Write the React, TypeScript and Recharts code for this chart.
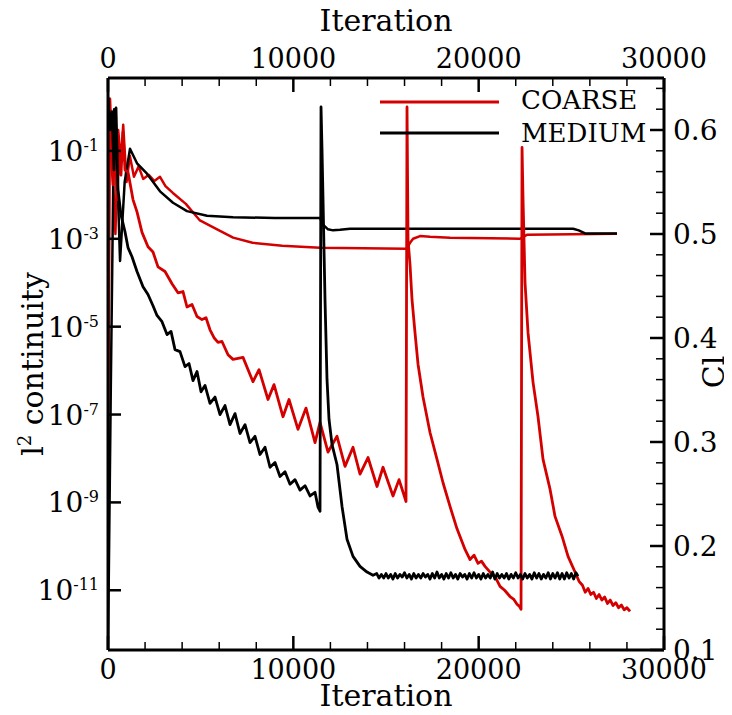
import { Legend, Line, LineChart, XAxis, YAxis } from "recharts";

const FONT = "'DejaVu Serif', serif";
const RED = "#d40000";

// iteration, residual (l2 continuity)
const coarseResidual: [number, number][] = [
  [0, 1.1], [162, 0.1], [270, 0.017], [378, 0.18], [486, 7.8e-3], [594, 0.1],
  [700, 0.028], [809, 0.27], [917, 0.037], [1079, 0.033], [1349, 7.8e-3],
  [1565, 4.1e-3], [1835, 1.4e-3], [2158, 6.6e-4], [2428, 5.0e-4], [2698, 2.3e-4],
  [3076, 1.8e-4], [3454, 9.5e-5], [3777, 5.9e-5], [4047, 6.3e-5], [4263, 2.8e-5],
  [4533, 3.2e-5], [4803, 1.7e-5], [5072, 1.45e-5], [5288, 1.6e-5], [5504, 8.5e-6],
  [5720, 5.6e-6], [5936, 4.4e-6], [6151, 4.6e-6], [6475, 2.3e-6], [6745, 1.8e-6],
  [7285, 2.0e-6], [7824, 5.6e-7], [8148, 1.05e-6], [8634, 2.2e-7], [8958, 4.8e-7],
  [9443, 8.9e-8], [9767, 2.2e-7], [10252, 4.6e-8], [10684, 1.4e-7], [11170, 2.3e-8],
  [11440, 6.6e-8], [11871, 1.4e-8], [12357, 3.2e-8], [12789, 6.6e-9], [13220, 1.8e-8],
  [13598, 4.4e-9], [14030, 1.05e-8], [14515, 2.3e-9], [14839, 6.3e-9], [15379, 1.4e-9],
  [15703, 3.3e-9], [16080, 1.05e-9], [16134, 1.0], [16188, 9.5e-4], [16296, 2.6e-4],
  [16404, 4.1e-5], [16566, 7.2e-6], [16728, 1.4e-6], [16997, 2.5e-7], [17375, 3.9e-8],
  [17753, 9.5e-9], [18077, 2.8e-9], [18454, 8.1e-10], [18832, 2.5e-10], [19264, 8.5e-11],
  [19534, 5.0e-11], [19750, 6.3e-11], [19965, 4.1e-11], [20150, 4.6e-11], [20343, 3.5e-11],
  [20721, 2.3e-11], [20900, 2.0e-11], [21152, 1.23e-11], [21400, 1.0e-11], [21692, 7.2e-12],
  [21900, 6.2e-12], [22070, 4.8e-12], [22200, 4.3e-12], [22286, 3.7e-12], [22340, 0.12],
  [22394, 7.8e-3], [22502, 1.0e-4], [22664, 7.2e-6], [22934, 5.4e-7], [23203, 8.9e-8],
  [23473, 9.5e-9], [23851, 2.0e-9], [24120, 4.8e-10], [24498, 1.7e-10], [24822, 5.9e-11],
  [25199, 2.6e-11], [25415, 1.6e-11], [25600, 1.3e-11], [25750, 9e-12], [25900, 1.1e-11],
  [26050, 8e-12], [26200, 9e-12], [26350, 6.5e-12], [26500, 8e-12], [26650, 6e-12],
  [26800, 7e-12], [26950, 5e-12], [27100, 6e-12], [27250, 4.5e-12], [27400, 5.2e-12],
  [27550, 4e-12], [27700, 4.6e-12], [27850, 3.6e-12], [28000, 4e-12], [28167, 3.3e-12]
];

const mediumResidual: [number, number][] = [
  [0, 1.7], [108, 0.3], [216, 0.78], [324, 0.037], [432, 0.95], [540, 0.013],
  [700, 3.5e-3], [917, 1.45e-3], [1079, 6.3e-4], [1295, 3.9e-4], [1565, 1.8e-4],
  [1889, 8.1e-5], [2158, 5.4e-5], [2428, 3.0e-5], [2644, 1.8e-5], [2914, 1.3e-5],
  [3184, 6.6e-6], [3400, 7.8e-6], [3615, 3.0e-6], [3885, 2.7e-6], [4155, 1.23e-6],
  [4371, 1.45e-6], [4587, 5.9e-7], [4803, 9.5e-7], [5018, 3.3e-7], [5234, 4.6e-7],
  [5504, 1.8e-7], [5774, 2.5e-7], [6044, 1.0e-7], [6313, 1.6e-7], [6583, 5.9e-8],
  [6853, 1.05e-7], [7123, 3.7e-8], [7393, 5.9e-8], [7662, 2.3e-8], [7932, 3.2e-8],
  [8202, 1.23e-8], [8472, 1.8e-8], [8742, 6.3e-9], [9011, 8.1e-9], [9281, 3.9e-9],
  [9551, 5.0e-9], [9821, 2.6e-9], [10091, 3.3e-9], [10360, 1.9e-9], [10630, 2.4e-9],
  [10900, 1.4e-9], [11170, 1.7e-9], [11332, 7.8e-10], [11440, 6.3e-10], [11494, 1.0],
  [11548, 0.105], [11602, 7.8e-3], [11709, 4.1e-5], [11817, 6.3e-7], [11925, 7.8e-8],
  [12087, 2.1e-8], [12357, 7.2e-9], [12627, 8.1e-10], [12896, 1.45e-10], [13220, 5.9e-11],
  [13598, 3.5e-11], [13976, 2.6e-11], [14300, 2.2e-11], [14500, 2.4e-11], [14625, 1.9e-11],
  [14750, 2.3e-11], [14875, 1.9e-11], [15000, 2.4e-11], [15125, 1.9e-11], [15250, 2.3e-11],
  [15375, 1.8e-11], [15500, 2.4e-11], [15625, 1.9e-11], [15750, 2.3e-11], [15875, 2.0e-11],
  [16000, 2.5e-11], [16125, 1.9e-11], [16250, 2.3e-11], [16375, 1.8e-11], [16500, 2.4e-11],
  [16625, 1.9e-11], [16750, 2.3e-11], [16875, 1.9e-11], [17000, 2.4e-11], [17125, 2.0e-11],
  [17250, 2.3e-11], [17375, 1.8e-11], [17500, 2.4e-11], [17625, 1.9e-11], [17750, 2.6e-11],
  [17875, 1.9e-11], [18000, 2.3e-11], [18125, 1.8e-11], [18250, 2.4e-11], [18375, 1.9e-11],
  [18500, 2.5e-11], [18625, 1.9e-11], [18750, 2.3e-11], [18875, 1.8e-11], [19000, 2.4e-11],
  [19125, 2.0e-11], [19250, 2.3e-11], [19375, 1.8e-11], [19500, 2.4e-11], [19625, 1.9e-11],
  [19750, 2.5e-11], [19875, 1.9e-11], [20000, 2.3e-11], [20125, 1.8e-11], [20250, 2.4e-11],
  [20375, 1.9e-11], [20500, 2.3e-11], [20625, 1.9e-11], [20750, 2.6e-11], [20875, 1.8e-11],
  [21000, 2.4e-11], [21125, 1.9e-11], [21250, 2.3e-11], [21375, 1.9e-11], [21500, 2.4e-11],
  [21625, 1.8e-11], [21750, 2.3e-11], [21875, 1.9e-11], [22000, 2.5e-11], [22125, 1.9e-11],
  [22250, 2.3e-11], [22375, 1.8e-11], [22500, 2.4e-11], [22625, 1.9e-11], [22750, 2.3e-11],
  [22875, 1.8e-11], [23000, 2.5e-11], [23125, 1.9e-11], [23250, 2.4e-11], [23375, 1.8e-11],
  [23500, 2.3e-11], [23625, 1.9e-11], [23750, 2.5e-11], [23875, 1.8e-11], [24000, 2.4e-11],
  [24125, 1.9e-11], [24250, 2.5e-11], [24375, 1.8e-11], [24500, 2.4e-11], [24625, 1.8e-11],
  [24750, 2.5e-11], [24875, 1.9e-11], [25000, 2.4e-11], [25125, 1.8e-11], [25250, 2.5e-11],
  [25361, 2.1e-11]
];

// iteration, Cl
const coarseCl: [number, number][] = [
  [0, 0.27], [110, 0.63], [250, 0.56], [400, 0.5], [550, 0.6], [700, 0.57],
  [820, 0.605], [1000, 0.55], [1180, 0.575], [1400, 0.555], [1650, 0.565],
  [1900, 0.553], [2200, 0.557], [2500, 0.551], [2806, 0.555], [3100, 0.546],
  [3500, 0.5395], [4200, 0.529], [4960, 0.513], [5500, 0.508], [6044, 0.503],
  [6750, 0.4965], [7800, 0.4916], [9400, 0.4887], [11440, 0.4868], [16100, 0.4858],
  [16300, 0.4916], [16460, 0.4954], [16836, 0.498], [17375, 0.4973], [18454, 0.4965],
  [22232, 0.4954], [22600, 0.4992], [27466, 0.5002]
];

const mediumCl: [number, number][] = [
  [0, 0.1], [150, 0.35], [330, 0.62], [430, 0.6], [650, 0.474], [900, 0.55],
  [1187, 0.582], [1565, 0.568], [2104, 0.558], [2806, 0.541], [3507, 0.53],
  [4263, 0.522], [5342, 0.5175], [6745, 0.516], [9000, 0.5155], [11440, 0.5155],
  [11600, 0.509], [11870, 0.5045], [12140, 0.5035], [12520, 0.504], [13060, 0.505],
  [25100, 0.505], [25400, 0.5035], [25740, 0.5005], [27466, 0.5005]
];

const iterTicks = [0, 2000, 4000, 6000, 8000, 10000, 12000, 14000, 16000, 18000, 20000, 22000, 24000, 26000, 28000, 30000];
const residualTicks = [1e-11, 1e-9, 1e-7, 1e-5, 1e-3, 1e-1];
const clTicks = [0.1, 0.12, 0.14, 0.16, 0.18, 0.2, 0.22, 0.24, 0.26, 0.28, 0.3, 0.32, 0.34, 0.36, 0.38, 0.4, 0.42, 0.44, 0.46, 0.48, 0.5, 0.52, 0.54, 0.56, 0.58, 0.6, 0.62, 0.64];

const legendItems = [
  { name: "COARSE", color: RED },
  { name: "MEDIUM", color: "#000" }
];

const toRows = (pts: [number, number][]) => pts.map(([it, v]) => ({ it, v }));

function BottomTick({ x, y, payload }: any) {
  const v = payload.value;
  const major = v % 10000 === 0;
  return (
    <g>
      <line x1={x} x2={x} y1={y} y2={y - (major ? 14 : 8)} stroke="#000" strokeWidth={major ? 2.5 : 1.5} />
      {major && (
        <text x={x} y={y + 29} textAnchor="middle" fontSize={27} fontFamily={FONT} fill="#000">
          {v}
        </text>
      )}
    </g>
  );
}

function TopTick({ x, y, payload }: any) {
  const v = payload.value;
  const major = v % 10000 === 0;
  return (
    <g>
      <line x1={x} x2={x} y1={y} y2={y + (major ? 14 : 8)} stroke="#000" strokeWidth={major ? 2.5 : 1.5} />
      {major && (
        <text x={x} y={y - 10} textAnchor="middle" fontSize={27} fontFamily={FONT} fill="#000">
          {v}
        </text>
      )}
    </g>
  );
}

function ResidualTick({ x, y, payload }: any) {
  const exp = Math.round(Math.log10(payload.value));
  return (
    <g>
      <line x1={x} x2={x + 13} y1={y} y2={y} stroke="#000" strokeWidth={2.5} />
      <text x={x - 9} y={y + 10} textAnchor="end" fontSize={28} fontFamily={FONT} fill="#000">
        <tspan>10</tspan>
        <tspan dy={-10} fontSize={16}>{exp}</tspan>
      </text>
    </g>
  );
}

function ClTick({ x, y, payload }: any) {
  const v = payload.value;
  const major = Math.abs(v * 10 - Math.round(v * 10)) < 1e-6;
  return (
    <g>
      <line x1={x} x2={x - (major ? 14 : 8)} y1={y} y2={y} stroke="#000" strokeWidth={major ? 2.5 : 1.5} />
      {major && (
        <text x={x + 9} y={y + 10} textAnchor="start" fontSize={28} fontFamily={FONT} fill="#000">
          {v.toFixed(1)}
        </text>
      )}
    </g>
  );
}

const bottomTitle = ({ viewBox }: any) => (
  <text x={viewBox.x + viewBox.width / 2} y={viewBox.y + 56} textAnchor="middle" fontSize={30} fontFamily={FONT} fill="#000">
    Iteration
  </text>
);

const topTitle = ({ viewBox }: any) => (
  <text x={viewBox.x + viewBox.width / 2} y={viewBox.y + 3} textAnchor="middle" fontSize={30} fontFamily={FONT} fill="#000">
    Iteration
  </text>
);

const leftTitle = ({ viewBox }: any) => {
  const cx = viewBox.x + 15;
  const cy = viewBox.y + viewBox.height / 2;
  return (
    <text x={cx} y={cy} transform={`rotate(-90, ${cx}, ${cy})`} textAnchor="middle" fontSize={30} fontFamily={FONT} fill="#000">
      <tspan>l</tspan>
      <tspan dy={-12} fontSize={18}>2</tspan>
      <tspan dy={12}> continuity</tspan>
    </text>
  );
};

const rightTitle = ({ viewBox }: any) => {
  const cx = viewBox.x + 60;
  const cy = viewBox.y + viewBox.height / 2 + 8;
  return (
    <text x={cx} y={cy} transform={`rotate(-90, ${cx}, ${cy})`} textAnchor="middle" fontSize={30} fontFamily={FONT} fill="#000">
      Cl
    </text>
  );
};

function LegendBox() {
  return (
    <svg width={290} height={64} style={{ display: "block", overflow: "visible" }}>
      {legendItems.map((item, i) => (
        <g key={item.name}>
          <line x1={0} x2={119} y1={16 + i * 31} y2={16 + i * 31} stroke={item.color} strokeWidth={3} />
          <text x={141} y={23 + i * 33} fontSize={26} fontFamily={FONT} fill="#000">
            {item.name}
          </text>
        </g>
      ))}
    </svg>
  );
}

const axisLine = { stroke: "#000", strokeWidth: 3 };

export default function App() {
  return (
    <div style={{ width: 732, height: 715, margin: -8, background: "#fff" }}>
      <LineChart width={732} height={715} margin={{ top: 28, right: 8, bottom: 15, left: 28 }}>
        <XAxis
          xAxisId="bottom"
          dataKey="it"
          type="number"
          domain={[0, 30000]}
          allowDataOverflow
          ticks={iterTicks}
          interval={0}
          height={50}
          tickSize={0}
          tickMargin={0}
          tickLine={false}
          axisLine={axisLine}
          tick={<BottomTick />}
          label={bottomTitle}
        />
        <XAxis
          xAxisId="top"
          orientation="top"
          dataKey="it"
          type="number"
          domain={[0, 30000]}
          allowDataOverflow
          ticks={iterTicks}
          interval={0}
          height={50}
          tickSize={0}
          tickMargin={0}
          tickLine={false}
          axisLine={axisLine}
          tick={<TopTick />}
          label={topTitle}
        />
        <YAxis
          yAxisId="res"
          type="number"
          scale="log"
          domain={[4.37e-13, 4.57]}
          allowDataOverflow
          ticks={residualTicks}
          interval={0}
          width={80}
          tickSize={0}
          tickMargin={0}
          tickLine={false}
          axisLine={axisLine}
          tick={<ResidualTick />}
          label={leftTitle}
        />
        <YAxis
          yAxisId="cl"
          orientation="right"
          type="number"
          domain={[0.1, 0.65]}
          allowDataOverflow
          ticks={clTicks}
          interval={0}
          width={60}
          tickSize={0}
          tickMargin={0}
          tickLine={false}
          axisLine={axisLine}
          tick={<ClTick />}
          label={rightTitle}
        />
        <Legend
          verticalAlign="middle"
          align="center"
          layout="horizontal"
          width={290}
          height={64}
          wrapperStyle={{ left: 380, top: 86, width: 290, height: 64 }}
          content={() => <LegendBox />}
        />
        <Line data={toRows(coarseCl)} xAxisId="bottom" yAxisId="cl" dataKey="v" name="COARSE Cl" stroke={RED} strokeWidth={2.5} dot={false} legendType="none" isAnimationActive={false} strokeLinejoin="round" />
        <Line data={toRows(mediumCl)} xAxisId="bottom" yAxisId="cl" dataKey="v" name="MEDIUM Cl" stroke="#000" strokeWidth={2.5} dot={false} legendType="none" isAnimationActive={false} strokeLinejoin="round" />
        <Line data={toRows(coarseResidual)} xAxisId="bottom" yAxisId="res" dataKey="v" name="COARSE" stroke={RED} strokeWidth={2.8} dot={false} isAnimationActive={false} strokeLinejoin="round" />
        <Line data={toRows(mediumResidual)} xAxisId="bottom" yAxisId="res" dataKey="v" name="MEDIUM" stroke="#000" strokeWidth={2.8} dot={false} isAnimationActive={false} strokeLinejoin="round" />
      </LineChart>
    </div>
  );
}
